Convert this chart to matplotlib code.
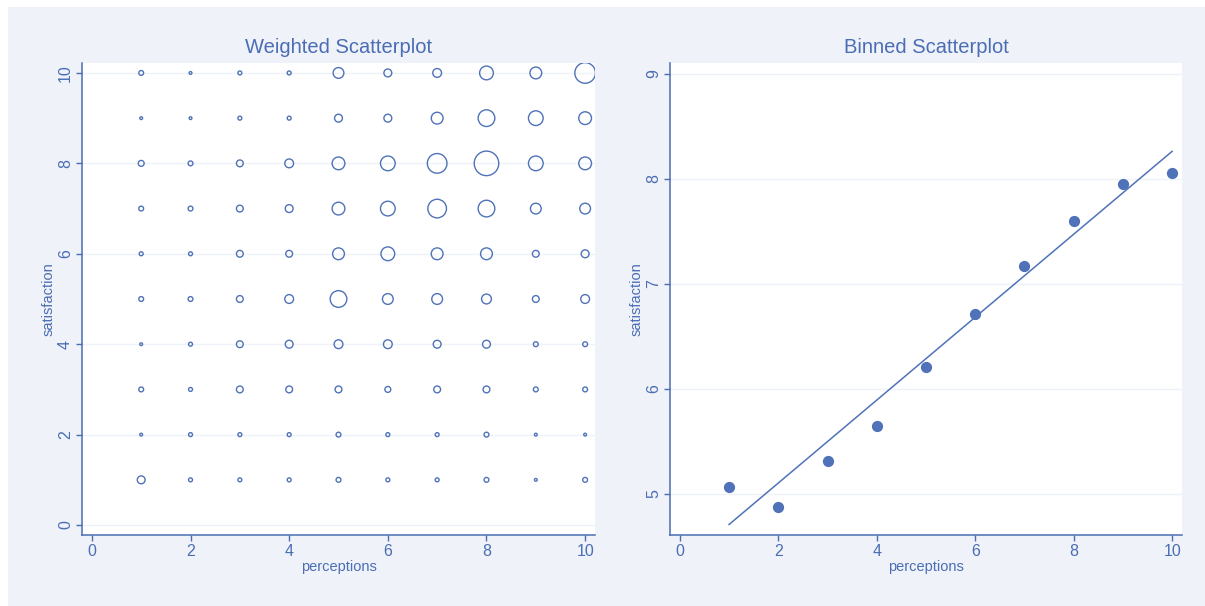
import numpy as np
import matplotlib.pyplot as plt
from matplotlib.patches import Rectangle

# weighted scatter: counts per (perceptions, satisfaction) cell
perceptions = list(range(1, 11))
satisfaction = list(range(10, 0, -1))  # row order of the table below
counts = [
    [6, 2, 4, 4, 30, 16, 20, 49, 36, 110],   # satisfaction 10
    [2, 2, 4, 4, 16, 16, 36, 72, 56, 42],    # 9
    [9, 6, 12, 20, 42, 56, 100, 156, 56, 42],  # 8
    [6, 6, 12, 16, 42, 56, 90, 72, 30, 30],  # 7
    [4, 4, 12, 12, 36, 49, 36, 36, 12, 16],  # 6
    [6, 6, 12, 20, 72, 30, 30, 25, 12, 20],  # 5
    [2, 4, 12, 16, 20, 20, 16, 16, 6, 6],    # 4
    [6, 4, 12, 12, 12, 9, 12, 12, 6, 6],     # 3
    [2, 4, 4, 4, 6, 4, 4, 6, 2, 2],          # 2
    [16, 4, 4, 4, 6, 4, 4, 6, 2, 6],         # 1
]

# binned scatter: mean satisfaction per perceptions bin + fitted line
bin_x = [1, 2, 3, 4, 5, 6, 7, 8, 9, 10]
bin_y = [5.07, 4.88, 5.31, 5.65, 6.21, 6.71, 7.17, 7.60, 7.95, 8.05]
fit_x = [1, 10]
fit_y = [4.71, 8.26]

BLUE = "#4f72b8"
TEXT = "#4a6db4"
BG = "#eff2f8"
GRID = "#eff2f9"

plt.rcParams["font.family"] = ["Liberation Sans", "DejaVu Sans"]

fig = plt.figure(figsize=(12.05, 6.06), dpi=100, facecolor="white")
fig.patches.append(Rectangle((8 / 1205, 0), 1, 1 - 7 / 606, transform=fig.transFigure,
                             facecolor=BG, edgecolor="none", zorder=-10))

ax1 = fig.add_axes([82 / 1205, 1 - 535 / 606, 513 / 1205, 472 / 606])
ax2 = fig.add_axes([670 / 1205, 1 - 535 / 606, 512 / 1205, 472 / 606])


def style(ax, title, yticks):
    ax.set_facecolor("white")
    for s in ["top", "right"]:
        ax.spines[s].set_visible(False)
    for s in ["left", "bottom"]:
        ax.spines[s].set_color(TEXT)
        ax.spines[s].set_linewidth(1.1)
    ax.set_xticks([0, 2, 4, 6, 8, 10])
    ax.set_yticks(yticks)
    ax.tick_params(colors=TEXT, labelsize=11.5, length=4, width=1, pad=2.5)
    for lab in ax.get_yticklabels():
        lab.set_rotation(90)
        lab.set_va("center")
    ax.grid(axis="y", color=GRID, linewidth=1)
    ax.set_axisbelow(True)
    ax.set_title(title, color=TEXT, fontsize=14.5, pad=7)
    ax.set_xlabel("perceptions", color=TEXT, fontsize=10.5, labelpad=1)
    ax.set_ylabel("satisfaction", color=TEXT, fontsize=10.5, labelpad=2)


# left: weighted scatterplot
xs, ys, ws = [], [], []
for yi, row in zip(satisfaction, counts):
    for xi, c in zip(perceptions, row):
        xs.append(xi)
        ys.append(yi)
        ws.append(c)
ax1.scatter(xs, ys, s=np.array(ws) * 2.0, facecolors="none", edgecolors=BLUE,
            linewidths=1.0, zorder=3)
ax1.set_xlim(-0.2, 10.2)
ax1.set_ylim(-0.22, 10.22)
style(ax1, "Weighted Scatterplot", [0, 2, 4, 6, 8, 10])

# right: binned scatterplot
ax2.plot(fit_x, fit_y, color=BLUE, linewidth=1.1, zorder=2)
ax2.scatter(bin_x, bin_y, s=50, color=BLUE, zorder=3)
ax2.set_xlim(-0.2, 10.2)
ax2.set_ylim(4.61, 9.1)
style(ax2, "Binned Scatterplot", [5, 6, 7, 8, 9])

plt.savefig("out.png", dpi=100, facecolor=fig.get_facecolor())
